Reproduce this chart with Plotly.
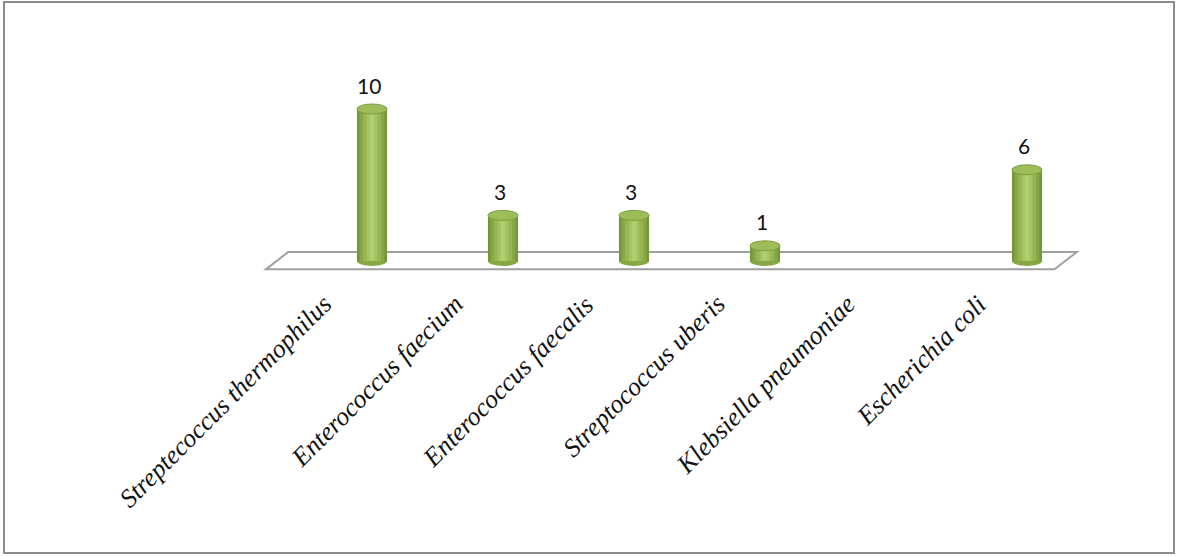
import plotly.graph_objects as go

categories = ["Streptecoccus thermophilus", "Enterococcus faecium", "Enterococcus faecalis",
              "Streptococcus uberis", "Klebsiella pneumoniae", "Escherichia coli"]
values = [10, 3, 3, 1, 0, 6]

W, H = 1179, 557
X0_PX, STEP_PX = 372, 131      # pixel of first category centre, spacing
Y0_PX, UNIT_PX = 261, 15.2     # pixel of value 0, pixels per unit

xr = [-X0_PX / STEP_PX, (W - X0_PX) / STEP_PX]
yr = [(Y0_PX - H) / UNIT_PX, Y0_PX / UNIT_PX]

pos = list(range(len(categories)))
fig = go.Figure()

# cylinder body: overlaid bars of decreasing width for a shaded look
layers = [(0.23, "#76963a"), (0.19, "#86a744"), (0.14, "#95b652"), (0.08, "#a4c462"), (0.035, "#b0cf70")]
for w, c in layers:
    fig.add_trace(go.Bar(x=pos, y=values, width=w, marker=dict(color=c, line=dict(width=0)),
                         hoverinfo="skip", showlegend=False))

shapes = []
# outer border
shapes.append(dict(type="rect", xref="paper", yref="paper", x0=4/W, x1=1174/W, y0=1-553/H, y1=1-2/H,
                   line=dict(color="#8c8c8c", width=2), fillcolor="rgba(0,0,0,0)", layer="below"))
# floor (parallelogram)
n = len(categories)
bl, br, dx = -0.64, n - 1 + 0.38, -0.17
yb, yf = 0.59, -0.55
shapes.append(dict(type="path", xref="x", yref="y",
                   path=f"M {bl} {yb} L {br} {yb} L {br+dx} {yf} L {bl+dx} {yf} Z",
                   line=dict(color="#a0a0a0", width=2), fillcolor="white", layer="below"))
eh = 5 / UNIT_PX
for i, v in zip(pos, values):
    if v <= 0:
        continue
    hw = 0.115
    # bottom ellipse
    shapes.append(dict(type="circle", xref="x", yref="y", x0=i-hw, x1=i+hw, y0=-eh, y1=eh,
                       fillcolor="#86a744", line=dict(width=0), layer="below"))
    # top ellipse
    shapes.append(dict(type="circle", xref="x", yref="y", x0=i-hw, x1=i+hw, y0=v-eh, y1=v+eh,
                       fillcolor="#9dbd5a", line=dict(color="#7f9f3f", width=1), layer="above"))

annotations = []
for i, v in zip(pos, values):
    if v > 0:
        annotations.append(dict(x=i, y=v, xref="x", yref="y", text=str(v), showarrow=False,
                                xshift=-3, yshift=24, yanchor="middle",
                                font=dict(family="Lato, Open Sans, sans-serif", size=21, color="#111111")))
    annotations.append(dict(x=i, y=1 - 287/H, xref="x", yref="paper", text=f"<i>{categories[i]}</i>",
                            showarrow=False, textangle=-45, xanchor="right", yanchor="top", xshift=-32,
                            font=dict(family="Liberation Serif, Times New Roman, serif", size=26, color="#111111")))

fig.update_layout(
    width=W, height=H, margin=dict(l=0, r=0, t=0, b=0),
    paper_bgcolor="white", plot_bgcolor="white",
    barmode="overlay",
    xaxis=dict(range=xr, visible=False, fixedrange=True),
    yaxis=dict(range=yr, visible=False, fixedrange=True),
    shapes=shapes, annotations=annotations,
)
fig.write_html("out.html")
